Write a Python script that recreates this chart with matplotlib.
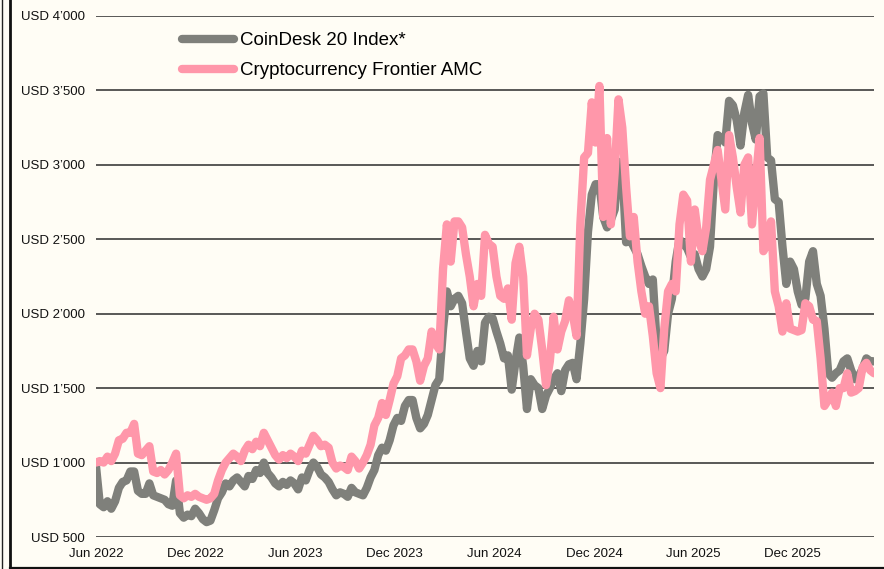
import matplotlib
matplotlib.use("Agg")
import matplotlib.pyplot as plt
import matplotlib.dates as mdates
from matplotlib.lines import Line2D
from matplotlib.ticker import FixedLocator, FuncFormatter
import pandas as pd

plt.rcParams['font.family'] = ['Liberation Sans', 'DejaVu Sans']

# weekly closes, Jun 2022 - Apr 2026
start_date = '2022-06-01'
end_date = '2026-04-29'

coindesk20 = [
    975, 720, 700, 740, 690, 740, 830, 870, 880, 940,
    940, 810, 790, 790, 860, 780, 770, 760, 750, 720,
    710, 880, 660, 630, 650, 640, 690, 660, 620, 600,
    610, 680, 760, 800, 860, 840, 880, 900, 870, 840,
    910, 890, 950, 930, 1000, 930, 900, 860, 840, 870,
    850, 880, 860, 820, 900, 880, 950, 1000, 970, 920,
    900, 870, 820, 780, 800, 790, 770, 830, 800, 790,
    780, 830, 900, 950, 1050, 1100, 1080, 1150, 1250, 1300,
    1280, 1380, 1420, 1420, 1300, 1230, 1260, 1320, 1420, 1520,
    1560, 1900, 2150, 2050, 2100, 2120, 2070, 1880, 1700, 1650,
    1750, 1680, 1940, 1980, 1970, 1880, 1800, 1700, 1720, 1490,
    1680, 1840, 1650, 1360, 1560, 1520, 1500, 1360, 1450, 1500,
    1560, 1600, 1480, 1620, 1660, 1670, 1560, 1800, 2100, 2550,
    2800, 2870, 2870, 2650, 2580, 2630, 2700, 3020, 2980, 2480,
    2500, 2450, 2400, 2320, 2250, 2200, 2230, 1800, 1700, 1750,
    2000, 2100, 2350, 2500, 2470, 2440, 2380, 2400, 2300, 2250,
    2300, 2450, 2900, 3200, 3180, 3150, 3430, 3400, 3300, 3130,
    3350, 3470, 3280, 3170, 3460, 3480, 3050, 3030, 2770, 2750,
    2450, 2200, 2350, 2300, 2150, 2060, 2100, 2350, 2420, 2200,
    2120, 1900, 1600, 1570, 1600, 1620, 1680, 1700, 1620, 1560,
    1580, 1630, 1700, 1680, 1680,
]

frontier_amc = [
    1000, 1010, 1000, 1040, 1010, 1060, 1150, 1160, 1200, 1200,
    1260, 1060, 1050, 1080, 1110, 940, 930, 950, 920, 950,
    1000, 1060, 780, 760, 780, 770, 790, 770, 760, 750,
    760, 790, 880, 950, 1000, 1030, 1060, 1040, 1010, 1080,
    1120, 1090, 1140, 1110, 1200, 1150, 1100, 1050, 1020, 1050,
    1030, 1060, 1040, 1010, 1080, 1060, 1120, 1180, 1150, 1110,
    1120, 1100, 1000, 960, 980, 970, 950, 1040, 1010, 960,
    1000, 1050, 1120, 1250, 1300, 1400, 1320, 1420, 1530, 1580,
    1700, 1720, 1760, 1760, 1680, 1550, 1650, 1700, 1880, 1800,
    1760, 2300, 2600, 2350, 2620, 2620, 2580, 2400, 2250, 2050,
    2200, 2120, 2530, 2470, 2450, 2250, 2120, 2100, 2170, 1960,
    2340, 2450, 2250, 1720, 1900, 2000, 1960, 1760, 1520, 1680,
    1980, 1760, 1880, 1950, 2090, 2000, 1850, 2600, 3050, 3080,
    3420, 3150, 3530, 2650, 3180, 2600, 2950, 3440, 3250, 2850,
    2520, 2650, 2350, 2150, 2000, 2050, 1850, 1600, 1500, 1900,
    2150, 2200, 2150, 2600, 2800, 2760, 2350, 2700, 2500, 2420,
    2580, 2900, 3000, 3100, 2900, 2700, 3200, 3050, 2850, 2680,
    3000, 3050, 2600, 2900, 3180, 2420, 2470, 2620, 2150, 2050,
    1880, 2070, 1900, 1890, 1880, 1890, 2070, 2050, 1960, 1950,
    1700, 1380, 1420, 1470, 1380, 1500, 1500, 1600, 1470, 1480,
    1500, 1640, 1670, 1620, 1600,
]

series_labels = ['CoinDesk 20 Index*', 'Cryptocurrency Frontier AMC']
y_ticks = [500, 1000, 1500, 2000, 2500, 3000, 3500, 4000]
x_ticks = ['2022-06-01', '2022-12-01', '2023-06-01', '2023-12-01',
           '2024-06-01', '2024-12-01', '2025-06-01', '2025-12-01']

dates = pd.date_range(start_date, end_date, periods=len(coindesk20))

bg = '#fffdf5'
grey = '#7f807b'
pink = '#ff97aa'

fig = plt.figure(figsize=(8.84, 5.69), dpi=100, facecolor=bg)
ax = fig.add_axes([96 / 884, 1 - 537 / 569, 778 / 884, 521 / 569])
ax.set_facecolor(bg)

# gridlines
for v in y_ticks:
    ax.axhline(v, color='#2b2b2b', lw=1.1, zorder=1)

ax.plot(dates, coindesk20, color=grey, lw=6.0, solid_joinstyle='round',
        solid_capstyle='round', label=series_labels[0], zorder=3)
ax.plot(dates, frontier_amc, color=pink, lw=6.0, solid_joinstyle='round',
        solid_capstyle='round', label=series_labels[1], zorder=4)

ax.set_xlim(dates[0], dates[-1])
ax.set_ylim(500, 4000)

ax.yaxis.set_major_locator(FixedLocator(y_ticks))
ax.yaxis.set_major_formatter(FuncFormatter(
    lambda v, p: 'USD ' + f'{int(v):,}'.replace(',', '\u2019')))
ax.xaxis.set_major_locator(FixedLocator(mdates.date2num(pd.to_datetime(x_ticks))))
ax.xaxis.set_major_formatter(mdates.DateFormatter('%b %Y'))

ax.tick_params(axis='both', length=0, labelsize=9.5, colors='#111111')
ax.tick_params(axis='y', pad=8)
ax.tick_params(axis='x', pad=8)
for s in ax.spines.values():
    s.set_visible(False)

ax.legend(loc='upper left', bbox_to_anchor=(0.111, 0.969), frameon=False,
          fontsize=13.5, handlelength=2.75, handletextpad=0.35,
          labelspacing=0.68, borderpad=0, borderaxespad=0)

# outer frame lines
fig.add_artist(Line2D([2 / 884, 2 / 884], [0, 1], transform=fig.transFigure,
                      color='#222222', lw=1.0))
fig.add_artist(Line2D([10 / 884, 10 / 884], [0, 1], transform=fig.transFigure,
                      color='#111111', lw=2.0))
fig.add_artist(Line2D([10 / 884, 1], [1.5 / 569, 1.5 / 569], transform=fig.transFigure,
                      color='#111111', lw=1.6))

fig.savefig('out.png', dpi=100, facecolor=bg)
